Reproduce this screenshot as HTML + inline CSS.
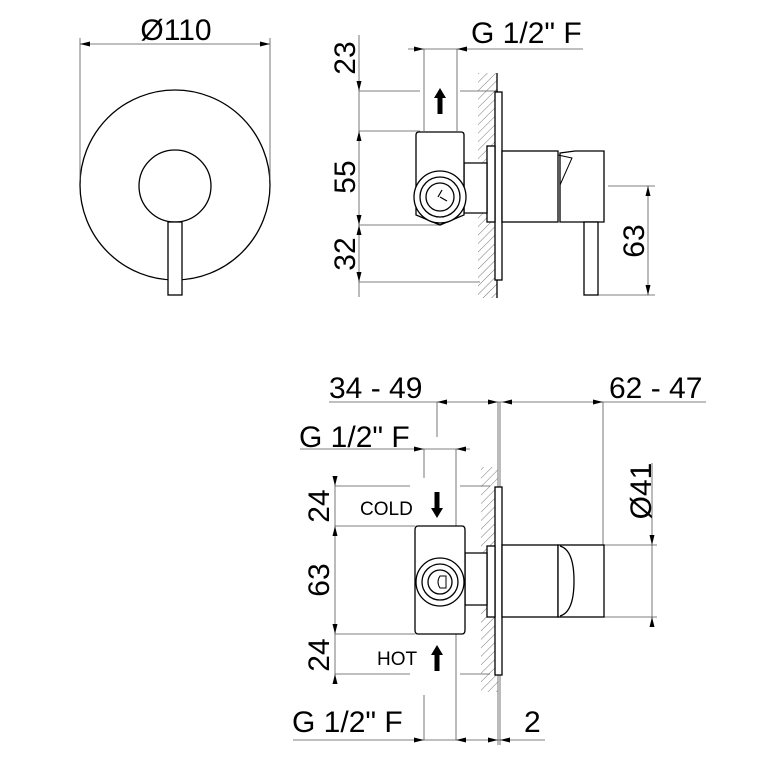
<!DOCTYPE html>
<html><head><meta charset="utf-8"><style>html,body{margin:0;padding:0;background:#fff}svg{display:block}</style></head>
<body>
<svg width="776" height="776" viewBox="0 0 776 776" xmlns="http://www.w3.org/2000/svg">
<defs>
<pattern id="h" width="6" height="6" patternUnits="userSpaceOnUse" patternTransform="rotate(45)"><line x1="0" y1="0" x2="0" y2="6" stroke="#555" stroke-width="0.8"/></pattern>
</defs>
<g font-family="Liberation Sans, sans-serif" fill="#000">
<!-- TOP LEFT -->
<g fill="none" stroke="#000" stroke-width="1.3">
<circle cx="175" cy="185" r="95"/>
<circle cx="175" cy="186" r="36"/>
<rect x="168" y="222" width="14" height="73" fill="#fff"/>
</g>
<g stroke="#555" stroke-width="0.8">
<line x1="80" y1="44" x2="270" y2="44"/>
<line x1="80" y1="38" x2="80" y2="180"/>
<line x1="270" y1="38" x2="270" y2="180"/>
</g>
<path d="M80 44 l10 -2.5 v5z M270 44 l-10 -2.5 v5z"/>
<text x="176" y="40" font-size="30" text-anchor="middle">Ø110</text>

<!-- TOP MIDDLE -->
<g stroke="#555" stroke-width="0.8" fill="none">
<line x1="359" y1="35" x2="359" y2="297"/>
<line x1="359" y1="91" x2="420" y2="91"/><line x1="460" y1="91" x2="498" y2="91"/>
<line x1="359" y1="131" x2="420" y2="131"/>
<line x1="359" y1="225" x2="440" y2="225"/>
<line x1="359" y1="282" x2="480" y2="282"/>
<line x1="408" y1="49" x2="583" y2="49"/>
<line x1="424" y1="49" x2="424" y2="131"/>
<line x1="457" y1="49" x2="457" y2="131"/>
<line x1="608" y1="186" x2="655" y2="186"/>
<line x1="598" y1="295" x2="655" y2="295"/>
<line x1="648" y1="186" x2="648" y2="295"/>
<line x1="464" y1="169" x2="487" y2="169"/><line x1="464" y1="193" x2="487" y2="193"/>
</g>
<path d="M359 91 l-2.5 -10 h5z M359 131 l-2.5 10 h5z M359 225 l-2.5 -10 h5z M359 225 l-2.5 10 h5z M359 282 l-2.5 -10 h5z M424 49 l-10 -2.5 v5z M457 49 l10 -2.5 v5z M648 186 l-2.5 10 h5z M648 295 l-2.5 -10 h5z"/>
<path d="M440 88 l-6 10 h3.5 v16 h5 v-16 h3.5z"/>
<text font-size="30" transform="translate(355,58) rotate(-90)" text-anchor="middle">23</text>
<text font-size="30" transform="translate(355,177) rotate(-90)" text-anchor="middle">55</text>
<text font-size="30" transform="translate(355,254) rotate(-90)" text-anchor="middle">32</text>
<text font-size="30" transform="translate(644,241) rotate(-90)" text-anchor="middle">63</text>
<text x="471" y="43" font-size="30">G 1/2" F</text>
<rect x="478" y="73" width="19" height="225" fill="url(#h)"/>
<g fill="#fff" stroke="#000" stroke-width="1.3">
<line x1="497" y1="73" x2="497" y2="298"/>
<rect x="495" y="92" width="7" height="188"/>
<rect x="487" y="146" width="8" height="76"/>
<path d="M464 163 H487 V213 H464z"/>
<path d="M416 135 q0 -3 3 -3 h42 q3 0 3 3 v80 l-24 10 -24 -10z"/>
<circle cx="440" cy="197" r="26"/>
<circle cx="440" cy="197" r="20"/>
<circle cx="440" cy="197" r="14"/>
<rect x="502" y="151" width="56" height="71"/>
<path d="M560 153 L575 151 H604 V222 H560z"/>
<rect x="584" y="222" width="14" height="73"/>
</g>
<path d="M558 155 L572 158 L560 185" fill="none" stroke="#000" stroke-width="1"/>
<path d="M438 197 l4 -7 M440 197 l7 4" stroke="#000" stroke-width="1.2" fill="none"/>

<!-- BOTTOM -->
<g stroke="#555" stroke-width="0.8" fill="none">
<line x1="329" y1="402" x2="706" y2="402"/>
<line x1="437" y1="402" x2="437" y2="437"/>
<line x1="498" y1="402" x2="498" y2="745"/>
<line x1="500" y1="402" x2="500" y2="745"/>
<line x1="603" y1="402" x2="603" y2="545"/>
<line x1="300" y1="449" x2="470" y2="449"/>
<line x1="424" y1="449" x2="424" y2="478"/>
<line x1="456" y1="449" x2="456" y2="740"/>
<line x1="424" y1="695" x2="424" y2="740"/>
<line x1="335" y1="477" x2="335" y2="682"/>
<line x1="335" y1="486" x2="410" y2="486"/><line x1="460" y1="486" x2="490" y2="486"/>
<line x1="335" y1="526" x2="415" y2="526"/>
<line x1="335" y1="634" x2="415" y2="634"/>
<line x1="335" y1="674" x2="410" y2="674"/><line x1="460" y1="674" x2="490" y2="674"/>
<line x1="652" y1="463" x2="652" y2="627"/>
<line x1="604" y1="545" x2="657" y2="545"/>
<line x1="604" y1="617" x2="657" y2="617"/>
<line x1="293" y1="740" x2="545" y2="740"/>
<line x1="465" y1="570" x2="487" y2="570"/><line x1="465" y1="592" x2="487" y2="592"/>
</g>
<path d="M437 402 l10 -2.5 v5z M498 402 l-10 -2.5 v5z M502 402 l10 -2.5 v5z M603 402 l-10 -2.5 v5z M424 449 l-10 -2.5 v5z M456 449 l10 -2.5 v5z M335 486 l-2.5 -10 h5z M335 526 l-2.5 10 h5z M335 634 l-2.5 -10 h5z M335 674 l-2.5 10 h5z M652 545 l-2.5 -10 h5z M652 617 l-2.5 10 h5z M424 740 l-10 -2.5 v5z M456 740 l10 -2.5 v5z M498 740 l-10 -2.5 v5z M500 740 l10 -2.5 v5z"/>
<path d="M437 518 l-6 -10 h3.5 v-16 h5 v16 h3.5z M437 645 l-6 10 h3.5 v16 h5 v-16 h3.5z"/>
<text x="329" y="398" font-size="30">34 - 49</text>
<text x="609" y="398" font-size="30">62 - 47</text>
<text x="299" y="447" font-size="30">G 1/2" F</text>
<text x="292" y="732" font-size="30">G 1/2" F</text>
<text x="524" y="732" font-size="30">2</text>
<text x="360" y="515" font-size="19">COLD</text>
<text x="377" y="665" font-size="19">HOT</text>
<text font-size="30" transform="translate(329,506) rotate(-90)" text-anchor="middle">24</text>
<text font-size="30" transform="translate(329,580) rotate(-90)" text-anchor="middle">63</text>
<text font-size="30" transform="translate(329,655) rotate(-90)" text-anchor="middle">24</text>
<text font-size="30" transform="translate(651,491) rotate(-90)" text-anchor="middle">Ø41</text>
<rect x="481" y="467" width="17" height="225" fill="url(#h)"/>
<g fill="#fff" stroke="#000" stroke-width="1.3">
<rect x="495" y="487" width="7" height="188"/>
<rect x="487" y="546" width="8" height="71"/>
<path d="M465 553 H487 V605 H465z"/>
<path d="M418 526 h44 q3 0 3 4 v100 q0 4 -3 4 h-44 q-3 0 -3 -4 v-100 q0 -4 3 -4z"/>
<circle cx="440" cy="582" r="24"/>
<circle cx="440" cy="582" r="18"/>
<circle cx="440" cy="582" r="12"/>
<rect x="502" y="545" width="56" height="72"/>
<rect x="558" y="545" width="46" height="72"/>
</g>
<path d="M560 546 q14 4 14 35 q0 31 -14 35" fill="none" stroke="#000" stroke-width="1.3"/>
<path d="M440 576 h6 v12 h-6 q-4 -6 0 -12z" fill="none" stroke="#000" stroke-width="1"/>
</g>
</svg>
</body></html>
